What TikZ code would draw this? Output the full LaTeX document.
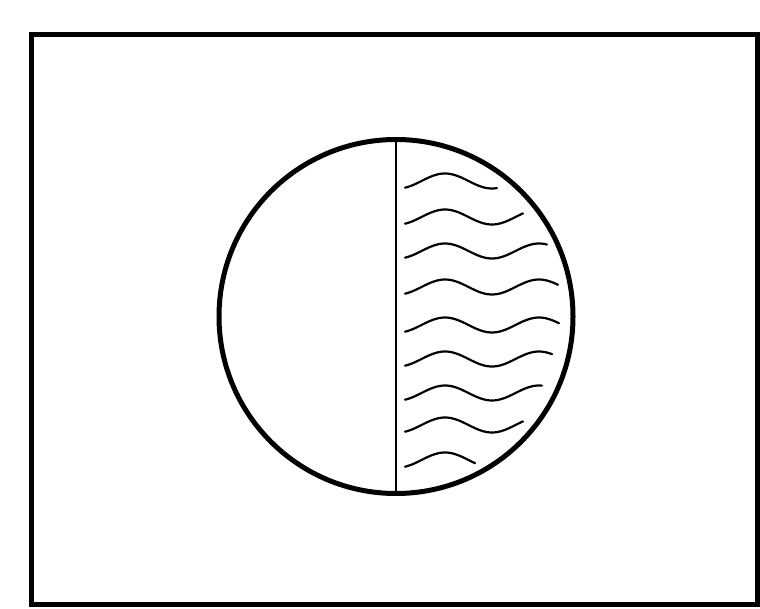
\documentclass[tikz,border=0pt]{standalone}
\begin{document}
\begin{tikzpicture}[x=0.5pt,y=-0.5pt,
  frame/.style={line width=2.5pt},
  globe/.style={line width=2.5pt},
  divider/.style={line width=1.1pt},
  wave/.style={line width=1.1pt,line cap=round,line join=round}]
\useasboundingbox (0,0) rectangle (760,609);
\fill[white] (0,0) rectangle (760,609);
\draw[frame] (31,35) rectangle (757,604);
\node[circle,globe,draw,minimum size=177pt,inner sep=0pt] (c) at (396,316.5) {};
\draw[divider] (c.north) -- (c.south);
\foreach \mm/\ee in {181/497, 217/523, 251/547, 287/558, 325/559, 359/552, 393/542, 425/523, 460/475}{
  \draw[wave] plot[variable=\t,domain=405:\ee,samples=60] (\t,{\mm - 7.5*cos(3.8298*(\t-445))});
}
\end{tikzpicture}
\end{document}
